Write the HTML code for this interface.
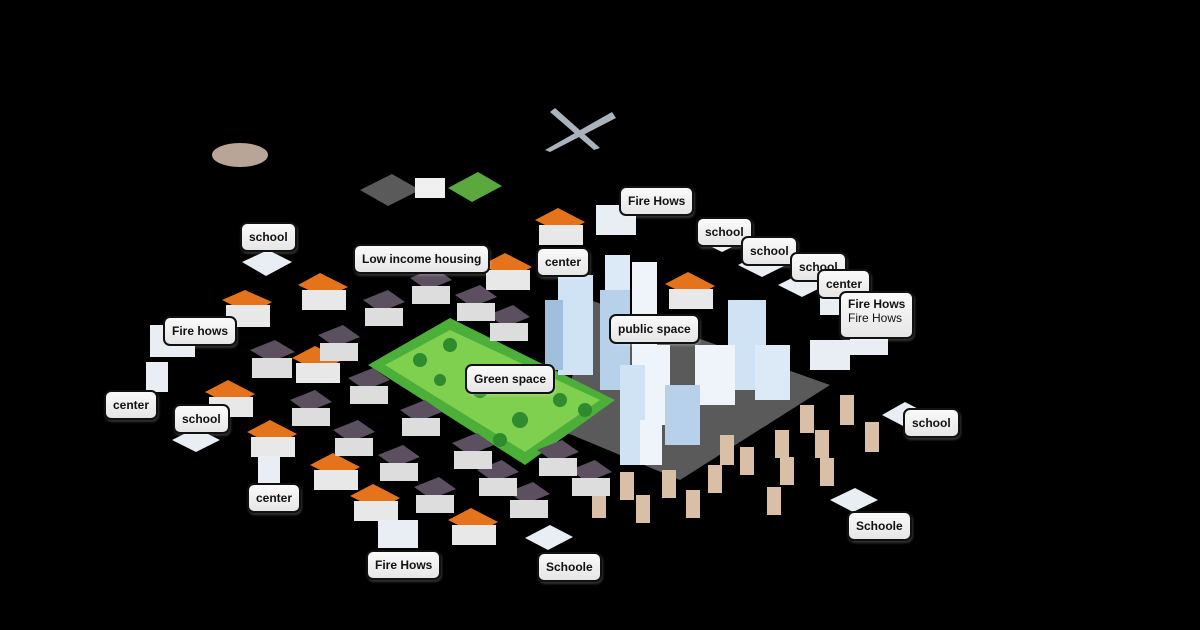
<!DOCTYPE html>
<html><head><style>
body{margin:0;width:1200px;height:630px;background:#000;overflow:hidden;position:relative;font-family:"Liberation Sans",sans-serif}
.l{position:absolute;background:linear-gradient(#fafafa,#e6e6e6);border:2px solid #111;border-radius:7px;font-size:12px;font-weight:bold;color:#111;padding:0 7px;height:26px;line-height:26px;box-shadow:1px 2px 2px rgba(255,255,255,.2);white-space:nowrap}
svg{position:absolute;left:0;top:0}
</style></head><body>
<svg width="1200" height="630">
<polygon points="590,300 830,385 680,480 560,430" fill="#5a5a5a"/>
<polygon points="450,318 615,400 525,465 368,365" fill="#4caf3a"/>
<polygon points="450,330 600,400 525,452 385,365" fill="#7fd04f"/>
<g fill="#2e8b2e">
<circle cx="420" cy="360" r="7"/><circle cx="450" cy="345" r="7"/><circle cx="480" cy="390" r="8"/><circle cx="520" cy="420" r="8"/><circle cx="560" cy="400" r="7"/><circle cx="500" cy="440" r="7"/><circle cx="440" cy="380" r="6"/><circle cx="585" cy="410" r="7"/></g>
<g>
<rect x="558" y="275" width="35" height="100" fill="#cfe3f5"/><rect x="545" y="300" width="18" height="70" fill="#9fbfdc"/>
<rect x="605" y="255" width="25" height="80" fill="#dce9f6"/><rect x="632" y="262" width="25" height="110" fill="#eef4fa"/>
<rect x="600" y="290" width="30" height="100" fill="#b7d1ea"/>
<rect x="728" y="300" width="38" height="90" fill="#cfe3f5"/><rect x="695" y="345" width="40" height="60" fill="#eef4fa"/>
<rect x="755" y="345" width="35" height="55" fill="#dce9f6"/>
<rect x="620" y="365" width="35" height="100" fill="#cfe3f5"/><rect x="645" y="345" width="25" height="80" fill="#eef4fa"/>
<rect x="665" y="385" width="35" height="60" fill="#b7d1ea"/><rect x="640" y="420" width="22" height="45" fill="#eef4fa"/>
</g>
<g fill="#d8bfa6">
<rect x="840" y="395" width="14" height="30"/><rect x="865" y="422" width="14" height="30"/><rect x="800" y="405" width="14" height="28"/><rect x="815" y="430" width="14" height="28"/><rect x="775" y="430" width="14" height="28"/><rect x="720" y="435" width="14" height="30"/><rect x="740" y="447" width="14" height="28"/><rect x="780" y="457" width="14" height="28"/><rect x="820" y="458" width="14" height="28"/><rect x="708" y="465" width="14" height="28"/><rect x="662" y="470" width="14" height="28"/><rect x="620" y="472" width="14" height="28"/><rect x="592" y="490" width="14" height="28"/><rect x="636" y="495" width="14" height="28"/><rect x="686" y="490" width="14" height="28"/><rect x="767" y="487" width="14" height="28"/></g>
<g>
<g fill="#e5731c">
<polygon points="222,300 245,290 272,302 250,314"/><polygon points="298,285 320,273 348,287 325,298"/><polygon points="292,358 315,346 342,360 320,372"/><polygon points="205,392 228,380 255,394 232,406"/><polygon points="247,432 270,420 297,434 274,446"/><polygon points="310,465 333,453 360,467 338,479"/><polygon points="350,496 373,484 400,498 378,510"/><polygon points="448,520 471,508 498,522 476,534"/><polygon points="482,265 505,253 532,267 510,279"/><polygon points="535,220 558,208 585,222 563,234"/><polygon points="665,284 688,272 715,286 693,298"/></g>
<g fill="#e8e8e8">
<rect x="226" y="305" width="44" height="22"/><rect x="302" y="290" width="44" height="20"/><rect x="296" y="363" width="44" height="20"/><rect x="209" y="397" width="44" height="20"/><rect x="251" y="437" width="44" height="20"/><rect x="314" y="470" width="44" height="20"/><rect x="354" y="501" width="44" height="20"/><rect x="452" y="525" width="44" height="20"/><rect x="486" y="270" width="44" height="20"/><rect x="539" y="225" width="44" height="20"/><rect x="669" y="289" width="44" height="20"/></g>
<g fill="#5b4f60">
<polygon points="250,350 275,340 295,352 270,362"/><polygon points="318,335 343,325 360,337 335,347"/><polygon points="363,300 388,290 405,302 380,312"/><polygon points="410,278 435,268 452,280 427,290"/><polygon points="455,295 480,285 497,297 472,307"/><polygon points="488,315 513,305 530,317 505,327"/><polygon points="290,400 315,390 332,402 307,412"/><polygon points="348,378 373,368 390,380 365,390"/><polygon points="400,410 425,400 442,412 417,422"/><polygon points="333,430 358,420 375,432 350,442"/><polygon points="378,455 403,445 420,457 395,467"/><polygon points="414,487 439,477 456,489 431,499"/><polygon points="452,443 477,433 494,445 469,455"/><polygon points="477,470 502,460 519,472 494,482"/><polygon points="508,492 533,482 550,494 525,504"/><polygon points="537,450 562,440 579,452 554,462"/><polygon points="570,470 595,460 612,472 587,482"/></g>
<g fill="#ddd">
<rect x="252" y="358" width="40" height="20"/><rect x="320" y="343" width="38" height="18"/><rect x="365" y="308" width="38" height="18"/><rect x="412" y="286" width="38" height="18"/><rect x="457" y="303" width="38" height="18"/><rect x="490" y="323" width="38" height="18"/><rect x="292" y="408" width="38" height="18"/><rect x="350" y="386" width="38" height="18"/><rect x="402" y="418" width="38" height="18"/><rect x="335" y="438" width="38" height="18"/><rect x="380" y="463" width="38" height="18"/><rect x="416" y="495" width="38" height="18"/><rect x="454" y="451" width="38" height="18"/><rect x="479" y="478" width="38" height="18"/><rect x="510" y="500" width="38" height="18"/><rect x="539" y="458" width="38" height="18"/><rect x="572" y="478" width="38" height="18"/></g>
<g fill="#e8eef4">
<polygon points="242,262 268,250 292,262 266,276"/><polygon points="172,440 196,428 220,440 196,452"/><polygon points="525,538 550,525 573,537 548,550"/><polygon points="830,500 855,488 878,500 853,512"/><polygon points="882,415 905,402 928,414 905,427"/><polygon points="698,240 722,228 746,240 722,252"/><polygon points="738,265 762,253 786,265 762,277"/><polygon points="778,285 802,273 826,285 802,297"/>
<rect x="150" y="325" width="45" height="32"/><rect x="596" y="205" width="40" height="30"/><rect x="378" y="520" width="40" height="28"/><rect x="810" y="340" width="40" height="30"/><rect x="850" y="325" width="38" height="30"/><rect x="146" y="362" width="22" height="30"/><rect x="258" y="456" width="22" height="30"/><rect x="820" y="285" width="20" height="30"/></g>
</g>
<ellipse cx="240" cy="155" rx="28" ry="12" fill="#b9a597"/>
<g fill="#aab3bd"><polygon points="545,150 612,112 616,118 550,152"/><polygon points="555,108 600,148 594,150 550,112"/></g>
<polygon points="360,190 392,174 420,190 388,206" fill="#5a5a5a"/>
<polygon points="448,188 478,172 502,186 472,202" fill="#5aa83e"/>
<rect x="415" y="178" width="30" height="20" fill="#f0f0f0"/>
</svg>
<div class="l" style="left:240px;top:222px">school</div>
<div class="l" style="left:353px;top:244px">Low income housing</div>
<div class="l" style="left:619px;top:186px">Fire Hows</div>
<div class="l" style="left:536px;top:247px">center</div>
<div class="l" style="left:696px;top:217px">school</div>
<div class="l" style="left:741px;top:236px">school</div>
<div class="l" style="left:790px;top:252px">school</div>
<div class="l" style="left:817px;top:269px">center</div>
<div class="l" style="left:839px;top:291px;height:40px;line-height:14px;padding-top:4px">Fire Hows<br><span style="font-weight:normal">Fire Hows</span></div>
<div class="l" style="left:163px;top:316px">Fire hows</div>
<div class="l" style="left:609px;top:314px">public space</div>
<div class="l" style="left:465px;top:364px">Green space</div>
<div class="l" style="left:104px;top:390px">center</div>
<div class="l" style="left:173px;top:404px">school</div>
<div class="l" style="left:903px;top:408px">school</div>
<div class="l" style="left:247px;top:483px">center</div>
<div class="l" style="left:847px;top:511px">Schoole</div>
<div class="l" style="left:366px;top:550px">Fire Hows</div>
<div class="l" style="left:537px;top:552px">Schoole</div>
</body></html>
